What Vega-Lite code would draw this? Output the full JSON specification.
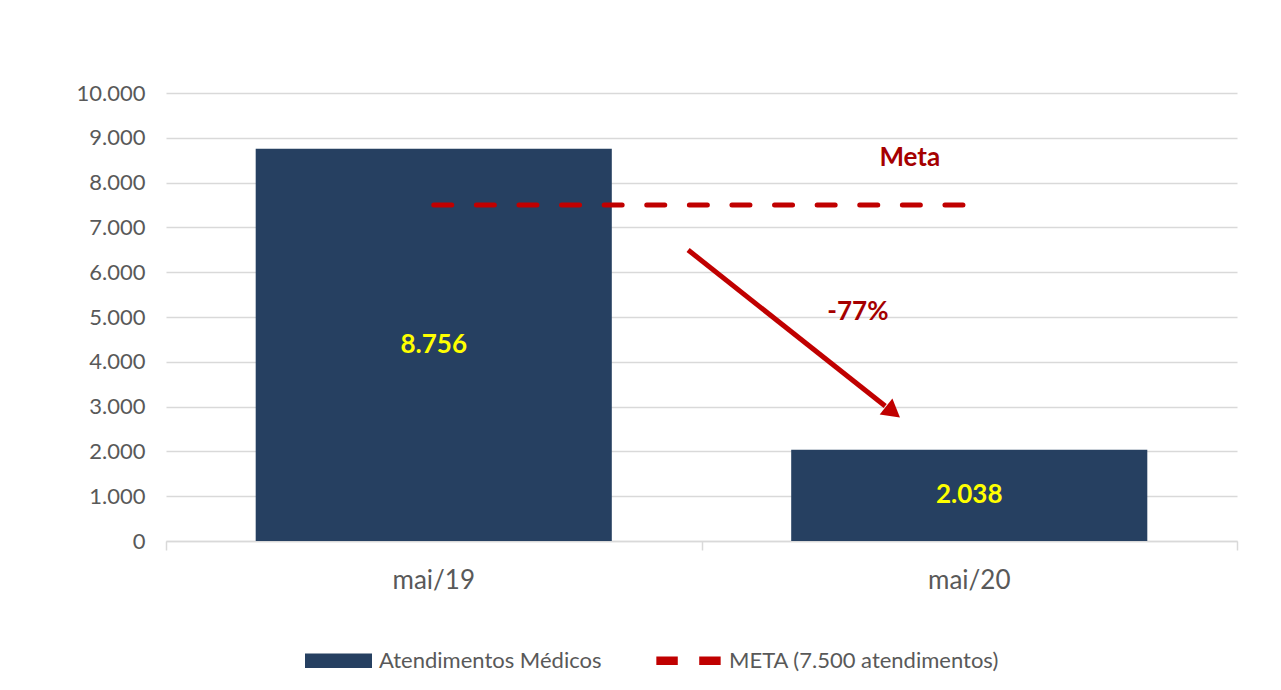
{
  "$schema": "https://vega.github.io/schema/vega-lite/v6.json",
  "autosize": {"type": "none"},
  "padding": {"left": 166, "top": 93, "right": 44, "bottom": 149},
  "width": 1071,
  "height": 448,
  "background": "white",
  "config": {
    "locale": {"number": {"decimal": ",", "thousands": ".", "grouping": [3], "currency": ["R$", ""]}},
    "view": {"stroke": null},
    "font": "Lato"
  },
  "datasets": {
    "barras": [
      {"mes": "mai/19", "valor": 8756, "serie": "Atendimentos Médicos"},
      {"mes": "mai/20", "valor": 2038, "serie": "Atendimentos Médicos"}
    ],
    "meta": [{"inicio": "mai/19", "fim": "mai/20", "valor": 7500}],
    "seta": [{"x": 0.975, "y": 6496, "x2": 1.343, "y2": 3013}],
    "ponta": [{"x": 1.3576, "y": 2879}],
    "textos": [
      {"x": 1.292, "y": 5112, "texto": "-77%"},
      {"x": 1.389, "y": 8549, "texto": "Meta"}
    ]
  },
  "resolve": {"scale": {"x": "independent"}},
  "layer": [
    {
      "layer": [
        {
          "data": {"name": "barras"},
          "mark": {"type": "bar"},
          "encoding": {
            "x": {
              "field": "mes", "type": "nominal", "sort": null,
              "scale": {"paddingInner": 0.335, "paddingOuter": 0.1675},
              "axis": {
                "title": null, "orient": "bottom", "labelAngle": 0, "labelFont": "Lato", "labelFontSize": 26,
                "labelColor": "#595959", "domain": false, "ticks": false, "tickSize": 0,
                "labelPadding": 26, "grid": false
              }
            },
            "y": {
              "field": "valor", "type": "quantitative",
              "scale": {"domain": [0, 10000], "nice": false},
              "axis": {
                "title": null, "format": ",d", "values": [0,1000,2000,3000,4000,5000,6000,7000,8000,9000,10000],
                "labelOverlap": false,
                "labelFont": "Lato", "labelFontSize": 22, "labelColor": "#595959",
                "domain": false, "ticks": false, "tickSize": 0, "labelPadding": 21,
                "gridColor": "#d9d9d9", "gridWidth": 1.5
              }
            },
            "color": {
              "field": "serie", "type": "nominal",
              "scale": {"domain": ["Atendimentos Médicos", "META (7.500 atendimentos)"], "range": ["#264061", "#c00000"]},
              "legend": {
                "title": null, "orient": "none", "legendX": 139, "legendY": 534,
                "direction": "horizontal", "columns": 2, "columnPadding": 53,
                "symbolSize": 4489, "labelFont": "Lato", "labelFontSize": 22, "labelColor": "#595959",
                "labelOffset": 7, "labelLimit": 500, "padding": 0, "symbolStrokeWidth": 0,
                "encode": {
                  "symbols": {
                    "update": {
                      "shape": {"signal": "datum.value === 'Atendimentos Médicos' ? 'M-1,-0.22H1V0.22H-1Z' : 'M-0.96,-0.13H-0.32V0.13H-0.96Z M0.32,-0.13H0.96V0.13H0.32Z'"},
                      "strokeWidth": {"value": 0}
                    }
                  }
                }
              }
            }
          }
        },
        {
          "data": {"name": "barras"},
          "transform": [{"calculate": "datum.valor / 2", "as": "meio"}],
          "mark": {"type": "text", "font": "Lato", "fontWeight": "bold", "fontSize": 26, "color": "#ffff00", "baseline": "middle"},
          "encoding": {
            "x": {"field": "mes", "type": "nominal", "sort": null},
            "y": {"field": "meio", "type": "quantitative"},
            "text": {"field": "valor", "type": "quantitative", "format": ",d"}
          }
        },
        {
          "data": {"name": "meta"},
          "mark": {"type": "rule", "color": "#c00000", "strokeWidth": 5, "strokeDash": [18, 24.6], "strokeCap": "round"},
          "encoding": {
            "x": {"field": "inicio", "type": "nominal", "sort": null},
            "x2": {"field": "fim"},
            "y": {"field": "valor", "type": "quantitative"}
          }
        }
      ]
    },
    {
      "layer": [
        {
          "data": {"name": "seta"},
          "mark": {"type": "rule", "color": "#c00000", "strokeWidth": 5},
          "encoding": {
            "x": {
              "field": "x", "type": "quantitative", "scale": {"domain": [0, 2], "nice": false},
              "axis": {
                "title": null, "orient": "bottom", "values": [0, 1, 2], "labels": false, "grid": false,
                "domainColor": "#d9d9d9", "domainWidth": 1.5, "tickColor": "#d9d9d9",
                "tickWidth": 1.5, "tickSize": 9
              }
            },
            "x2": {"field": "x2"},
            "y": {"field": "y", "type": "quantitative"},
            "y2": {"field": "y2"}
          }
        },
        {
          "data": {"name": "ponta"},
          "mark": {"type": "point", "shape": "triangle-right", "filled": true, "color": "#c00000", "size": 420, "angle": 38.4, "opacity": 1},
          "encoding": {
            "x": {"field": "x", "type": "quantitative"},
            "y": {"field": "y", "type": "quantitative"}
          }
        },
        {
          "data": {"name": "textos"},
          "mark": {"type": "text", "font": "Lato", "fontWeight": "bold", "fontSize": 26, "color": "#a50000", "baseline": "middle", "align": "center"},
          "encoding": {
            "x": {"field": "x", "type": "quantitative"},
            "y": {"field": "y", "type": "quantitative"},
            "text": {"field": "texto", "type": "nominal"}
          }
        }
      ]
    }
  ]
}
